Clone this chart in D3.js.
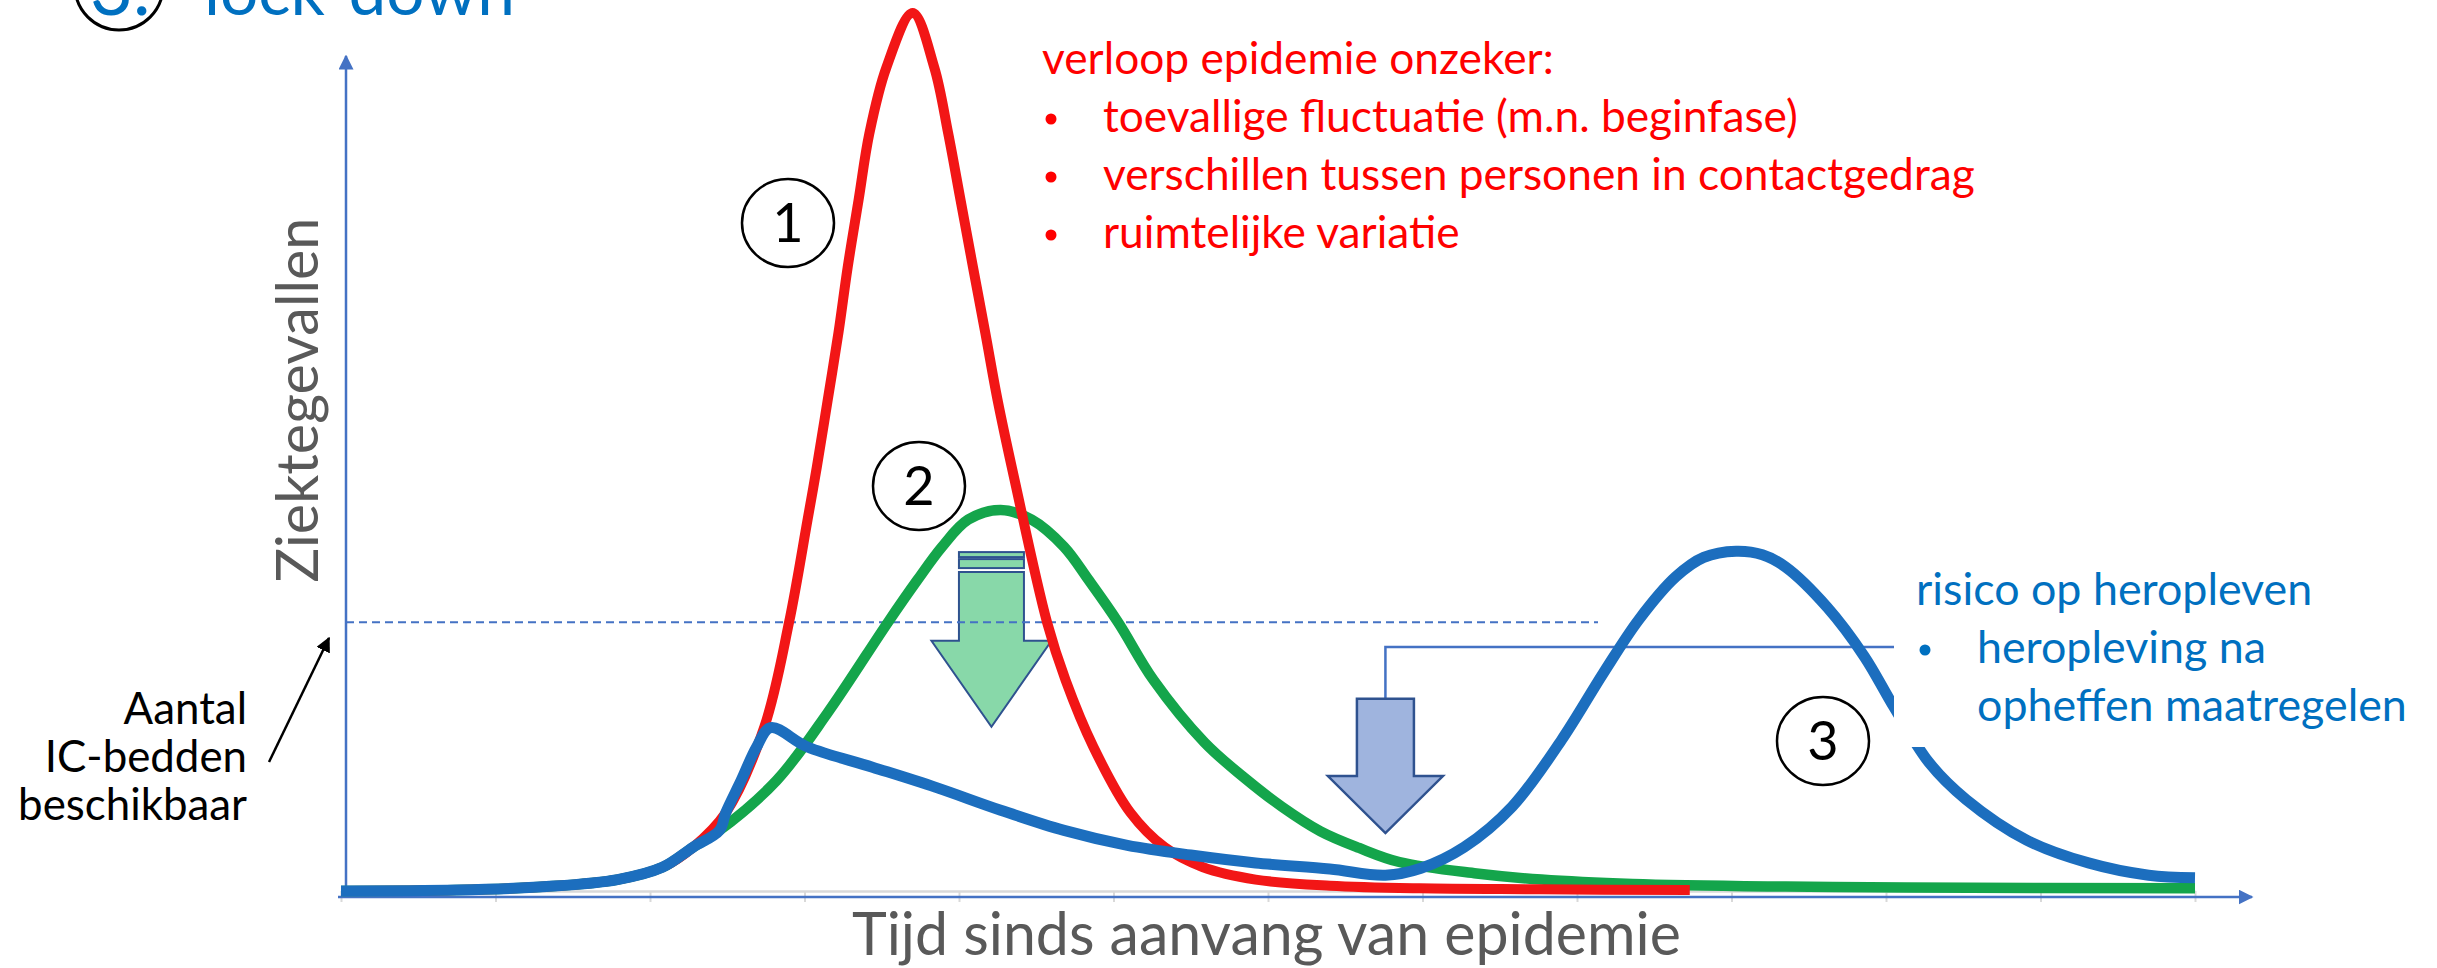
<!DOCTYPE html>
<html>
<head>
<meta charset="utf-8">
<script src="https://cdn.jsdelivr.net/npm/d3@7"></script>
<style>
  body { margin: 0; background: #fff; }
  svg { display: block; }
  text { font-family: Lato, "Open Sans", sans-serif; }
</style>
</head>
<body>
<div id="chart"></div>
<script>
const width = 2437;
const height = 968;

// time runs over 12 tick intervals, cases scaled so the red peak = 100
const tickValues = d3.range(0, 13);

const redCurve = [
  [0, 0], [0.75, 0.1], [1.33, 0.5], [1.79, 1.3], [2.08, 2.7], [2.28, 5.0], [2.49, 8.9],
  [2.74, 18.7], [2.9, 30.6], [3.02, 42.3], [3.08, 48.3], [3.15, 55.9], [3.22, 63.6],
  [3.28, 71.1], [3.35, 78.7], [3.42, 86.3], [3.53, 93.8], [3.7, 100], [3.84, 93.8],
  [3.93, 86.3], [4.01, 78.7], [4.09, 71.1], [4.17, 63.6], [4.25, 55.9], [4.36, 46.8],
  [4.57, 30.6], [4.69, 24.0], [4.87, 16.4], [5.11, 8.9], [5.33, 5.0], [5.58, 2.7],
  [5.92, 1.3], [6.4, 0.6], [6.98, 0.3], [7.76, 0.2], [8.73, 0.1]
];

const greenCurve = [
  [0, 0], [0.75, 0.1], [1.33, 0.5], [1.79, 1.3], [2.08, 2.7], [2.28, 5.0], [2.45, 6.9],
  [2.82, 12.6], [3.15, 20.3], [3.54, 30.6], [3.73, 35.4], [3.89, 39.2], [4.06, 42.3],
  [4.27, 43.4], [4.47, 42.3], [4.68, 39.2], [4.84, 35.4], [5.03, 30.6], [5.26, 24.0],
  [5.59, 16.9], [5.84, 13.0], [6.09, 9.6], [6.34, 6.8], [6.59, 4.9], [6.85, 3.3],
  [7.35, 2.0], [7.77, 1.3], [8.36, 0.8], [9.35, 0.5], [10.13, 0.4], [12, 0.3]
];

const blueCurve = [
  [0, 0], [0.75, 0.1], [1.33, 0.5], [1.79, 1.3], [2.08, 2.7], [2.28, 5.0], [2.45, 6.9],
  [2.49, 8.9], [2.59, 12.6], [2.69, 16.4], [2.78, 18.6], [3.02, 16.4], [3.44, 14.1],
  [3.85, 11.8], [4.27, 9.2], [4.68, 6.9], [5.09, 5.2], [5.5, 4.1], [5.92, 3.2],
  [6.4, 2.5], [6.76, 1.8], [6.99, 2.6], [7.27, 5.0], [7.58, 9.6], [7.9, 17.2],
  [8.17, 24.8], [8.4, 30.9], [8.64, 35.8], [8.82, 38.0], [9.03, 38.7], [9.2, 38.3],
  [9.35, 36.9], [9.62, 32.3], [9.86, 26.7], [10.05, 21.0], [10.28, 14.6], [10.52, 10.4],
  [10.91, 5.8], [11.31, 3.2], [11.7, 1.8], [12, 1.5]
];

const icCapacity = 30.6;

const redNotes = [
  "verloop epidemie onzeker:",
  "toevallige fluctuatie (m.n. beginfase)",
  "verschillen tussen personen in contactgedrag",
  "ruimtelijke variatie"
];
const blueNotes = ["risico op heropleven", "heropleving na", "opheffen maatregelen"];
const capacityLabel = ["Aantal", "IC-bedden", "beschikbaar"];
const scenarioLabels = ["1", "2", "3"];
const yTitle = "Ziektegevallen";
const xTitle = "Tijd sinds aanvang van epidemie";

const svg = d3.select("#chart").append("svg")
    .attr("width", width)
    .attr("height", height);

const x = d3.scaleLinear().domain([0, 12]).range([341, 2195]);
const y = d3.scaleLinear().domain([0, 100]).range([891, 13]);

const axisBlue = "#4472C4";
const arrowEdge = "#2F528F";

// shrink or grow a text so it spans the width seen in the picture
function fit(sel, w) {
    const len = sel.node().getComputedTextLength();
    const fs = parseFloat(sel.attr("font-size"));
    const size = fs * w / len;
    sel.attr("font-size", size);
    return size;
}

const defs = svg.append("defs");
defs.append("marker")
    .attr("id", "headBlue")
    .attr("viewBox", "0 0 10 10")
    .attr("refX", 9).attr("refY", 5)
    .attr("markerWidth", 6).attr("markerHeight", 6)
    .attr("markerUnits", "strokeWidth")
    .attr("orient", "auto")
  .append("path").attr("d", "M0,0L10,5L0,10z").attr("fill", axisBlue);
defs.append("marker")
    .attr("id", "headBlack")
    .attr("viewBox", "0 0 10 10")
    .attr("refX", 9).attr("refY", 5)
    .attr("markerWidth", 6).attr("markerHeight", 6)
    .attr("markerUnits", "strokeWidth")
    .attr("orient", "auto")
  .append("path").attr("d", "M0,0L10,5L0,10z").attr("fill", "#000");

// title, mostly cut off at the top edge (as in the original slide)
svg.append("circle")
    .attr("cx", 119).attr("cy", -14).attr("r", 44)
    .attr("fill", "none").attr("stroke", "#000").attr("stroke-width", 3);
svg.append("text")
    .attr("x", 90).attr("y", 15)
    .attr("font-size", 74).attr("fill", "#0070C0")
    .text("3.");
const title = svg.append("text")
    .attr("x", 204).attr("y", 15)
    .attr("font-size", 74).attr("fill", "#0070C0")
    .text("lock-down");
fit(title, 311);

// x axis: light grey base with ticks, blue arrow below it
const xAxis = svg.append("g")
    .attr("transform", "translate(0," + y(0) + ")")
    .call(d3.axisBottom(x).tickValues(tickValues).tickSize(11).tickFormat("").tickSizeOuter(0));
xAxis.select(".domain").attr("stroke", "#d9d9d9").attr("stroke-width", 2.5);
xAxis.selectAll(".tick line").attr("stroke", "#d9d9d9").attr("stroke-width", 2);

svg.append("line")
    .attr("x1", 338).attr("x2", 2252)
    .attr("y1", y(0) + 6).attr("y2", y(0) + 6)
    .attr("stroke", axisBlue).attr("stroke-width", 2.5)
    .attr("marker-end", "url(#headBlue)");

svg.append("line")
    .attr("x1", 346).attr("x2", 346)
    .attr("y1", y(0) + 6).attr("y2", 56)
    .attr("stroke", axisBlue).attr("stroke-width", 2.5)
    .attr("marker-end", "url(#headBlue)");

const yLab = svg.append("text")
    .attr("transform", "translate(318,400) rotate(-90)")
    .attr("text-anchor", "middle")
    .attr("font-size", 58).attr("fill", "#595959")
    .text(yTitle);
fit(yLab, 365);

const xLab = svg.append("text")
    .attr("x", 852).attr("y", 955)
    .attr("font-size", 58).attr("fill", "#595959")
    .text(xTitle);
fit(xLab, 829);

// striped green arrow (lock-down lowers the peak)
const ga = { cx: x(4.21), top: y(38.6), tip: y(18.7), bw: 65, hw: 120 };
const green = svg.append("g")
    .attr("fill", "#88D8A9").attr("stroke", arrowEdge).attr("stroke-width", 2);
green.append("rect").attr("x", ga.cx - ga.bw / 2).attr("y", ga.top).attr("width", ga.bw).attr("height", 5);
green.append("rect").attr("x", ga.cx - ga.bw / 2).attr("y", ga.top + 7).attr("width", ga.bw).attr("height", 9);
green.append("path")
    .attr("d", d3.line()([
        [ga.cx - ga.bw / 2, ga.top + 20], [ga.cx + ga.bw / 2, ga.top + 20],
        [ga.cx + ga.bw / 2, ga.tip - 86], [ga.cx + ga.hw / 2, ga.tip - 86],
        [ga.cx, ga.tip], [ga.cx - ga.hw / 2, ga.tip - 86],
        [ga.cx - ga.bw / 2, ga.tip - 86]
    ]) + "Z");

// blue arrow with connector to the text box
const ba = { cx: x(6.76), top: y(21.9), tip: y(6.6), bw: 57, hw: 115 };
svg.append("path")
    .attr("d", d3.line()([[ba.cx, ba.top], [ba.cx, 647], [1894, 647]]))
    .attr("fill", "none").attr("stroke", axisBlue).attr("stroke-width", 2.5);
svg.append("path")
    .attr("d", d3.line()([
        [ba.cx - ba.bw / 2, ba.top], [ba.cx + ba.bw / 2, ba.top],
        [ba.cx + ba.bw / 2, ba.tip - 57], [ba.cx + ba.hw / 2, ba.tip - 57],
        [ba.cx, ba.tip], [ba.cx - ba.hw / 2, ba.tip - 57],
        [ba.cx - ba.bw / 2, ba.tip - 57]
    ]) + "Z")
    .attr("fill", "#9FB4DE").attr("stroke", arrowEdge).attr("stroke-width", 2.5);

// IC capacity
svg.append("line")
    .attr("x1", 346).attr("x2", 1598)
    .attr("y1", y(icCapacity)).attr("y2", y(icCapacity))
    .attr("stroke", axisBlue).attr("stroke-width", 2)
    .attr("stroke-dasharray", "8 5");

// curves
const line = d3.line()
    .x(d => x(d[0]))
    .y(d => y(d[1]))
    .curve(d3.curveCatmullRom.alpha(0.5));

const series = [
    { data: greenCurve, color: "#14A54B", w: 10.5 },
    { data: redCurve, color: "#F21616", w: 10 },
    { data: blueCurve, color: "#1C6EBE", w: 11 }
];
svg.append("g").selectAll("path")
    .data(series)
    .join("path")
    .attr("d", d => line(d.data))
    .attr("fill", "none")
    .attr("stroke", d => d.color)
    .attr("stroke-width", d => d.w)
    .attr("stroke-linejoin", "round")
    .attr("stroke-linecap", "butt");

// scenario numbers in circles
const labelPos = [[788, 223], [919, 486], [1823, 741]];
const circ = svg.append("g").selectAll("g")
    .data(scenarioLabels)
    .join("g")
    .attr("transform", (d, i) => "translate(" + labelPos[i] + ")");
circ.append("ellipse")
    .attr("rx", 46).attr("ry", 44)
    .attr("fill", "none").attr("stroke", "#000").attr("stroke-width", 2.5);
circ.append("text")
    .attr("text-anchor", "middle")
    .attr("y", 19)
    .attr("font-size", 54)
    .text(d => d);

// red notes
const rn = svg.append("g").attr("fill", "#FF0000");
const rnText = rn.selectAll("text")
    .data(redNotes)
    .join("text")
    .attr("x", (d, i) => i === 0 ? 1042 : 1103)
    .attr("y", (d, i) => 74 + i * 58)
    .attr("font-size", 40)
    .text(d => d);
const rnSize = fit(d3.select(rnText.nodes()[2]), 872);
rnText.attr("font-size", rnSize);
rn.selectAll("circle")
    .data(redNotes.slice(1))
    .join("circle")
    .attr("cx", 1051).attr("cy", (d, i) => 74 + (i + 1) * 58 - 13)
    .attr("r", 5.5);

// blue notes on a white box that hides part of the curve
svg.append("rect")
    .attr("x", 1894).attr("y", 570)
    .attr("width", width - 1894).attr("height", 177)
    .attr("fill", "#fff");
const bn = svg.append("g").attr("fill", "#0070C0");
const bnText = bn.selectAll("text")
    .data(blueNotes)
    .join("text")
    .attr("x", (d, i) => i === 0 ? 1916 : 1977)
    .attr("y", (d, i) => 605 + i * 58)
    .attr("font-size", 40)
    .text(d => d);
const bnSize = fit(d3.select(bnText.nodes()[2]), 430);
bnText.attr("font-size", bnSize);
bn.append("circle").attr("cx", 1925).attr("cy", 650).attr("r", 5.5);

// IC beds label with pointer arrow
const cl = svg.append("g").attr("fill", "#000");
const clText = cl.selectAll("text")
    .data(capacityLabel)
    .join("text")
    .attr("x", 247)
    .attr("y", (d, i) => 724 + i * 48)
    .attr("text-anchor", "end")
    .attr("font-size", 40)
    .text(d => d);
const clSize = fit(d3.select(clText.nodes()[2]), 229);
clText.attr("font-size", clSize);
svg.append("line")
    .attr("x1", 269).attr("y1", 762)
    .attr("x2", 329).attr("y2", 638)
    .attr("stroke", "#000").attr("stroke-width", 2.5)
    .attr("marker-end", "url(#headBlack)");
</script>
</body>
</html>
